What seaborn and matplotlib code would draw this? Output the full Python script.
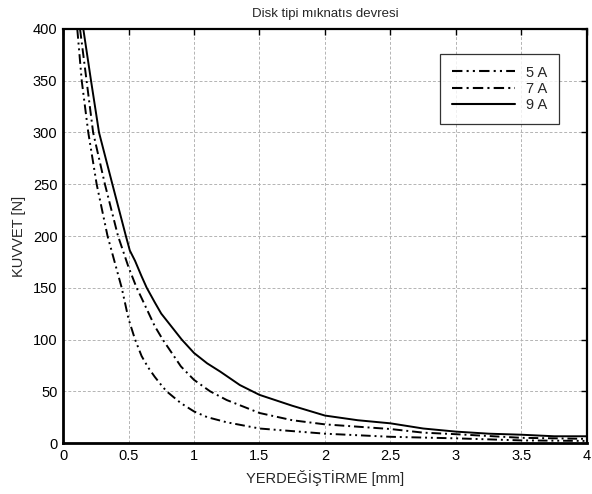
import numpy as np
import pandas as pd
import matplotlib
matplotlib.use("Agg")
import matplotlib.pyplot as plt
import seaborn as sns

# ---- data ----
x_5A = [0.109, 0.143, 0.193, 0.257, 0.34, 0.448, 0.5, 0.55, 0.6, 0.65, 0.7, 0.75, 0.79, 0.9, 1.0, 1.1, 1.25, 1.5, 2.0, 2.5, 3.0, 3.5, 4.0]
y_5A = [400, 350, 300, 250, 200, 150, 120, 100, 84, 73, 64, 56, 50, 38.5, 30.5, 25, 20, 14, 9, 6, 4.5, 2.5, 2]

x_7A = [0.13, 0.18, 0.23, 0.32, 0.42, 0.5, 0.562, 0.6, 0.7, 0.761, 0.9, 1.0, 1.122, 1.25, 1.5, 1.75, 2.0, 2.5, 2.75, 3.0, 3.5, 4.0]
y_7A = [400, 350, 300, 250, 200, 170, 150, 140, 113, 100, 74, 61, 50, 41.5, 29, 22, 18, 13.5, 10, 8.5, 5, 4]

x_9A = [0.155, 0.214, 0.275, 0.377, 0.48, 0.51, 0.55, 0.6, 0.639, 0.7, 0.75, 0.8, 0.906, 1.0, 1.1, 1.2, 1.35, 1.5, 1.75, 2.0, 2.25, 2.5, 2.75, 3.0, 3.25, 3.5, 3.75, 4.0]
y_9A = [400, 350, 300, 250, 200, 186, 176, 161, 150, 136, 125, 117, 100, 87, 77, 69, 56, 46.5, 36, 26.5, 22, 19, 14, 11, 9, 8, 6.5, 6.5]

series_labels = ["5 A", "7 A", "9 A"]
x_ticks = [0, 0.5, 1, 1.5, 2, 2.5, 3, 3.5, 4]
x_tick_labels = ["0", "0.5", "1", "1.5", "2", "2.5", "3", "3.5", "4"]
y_ticks = [0, 50, 100, 150, 200, 250, 300, 350, 400]

title = "Disk tipi mıknatıs devresi"
xlabel = "YERDEĞİŞTİRME [mm]"
ylabel = "KUVVET [N]"

df = pd.concat([
    pd.DataFrame({"x": x_5A, "y": y_5A, "s": series_labels[0]}),
    pd.DataFrame({"x": x_7A, "y": y_7A, "s": series_labels[1]}),
    pd.DataFrame({"x": x_9A, "y": y_9A, "s": series_labels[2]}),
], ignore_index=True)

sns.set_style("white")
plt.rcParams["font.family"] = ["Liberation Sans", "DejaVu Sans"]

fig = plt.figure(figsize=(5.92, 4.94), dpi=100)
ax = fig.add_axes([63/592, 1-443/494, (587-63)/592, (443-29)/494])

dashes = {
    "5 A": (5, 2, 1, 2, 1, 2),
    "7 A": (5, 2, 1, 2),
    "9 A": "",
}
sns.lineplot(data=df, x="x", y="y", hue="s", style="s", dashes=dashes,
             palette={k: "black" for k in series_labels}, sort=False,
             estimator=None, linewidth=1.4, ax=ax, legend=True)

ax.set_xlim(0, 4)
ax.set_ylim(0, 400)
ax.set_xticks(x_ticks)
ax.set_xticklabels(x_tick_labels)
ax.set_yticks(y_ticks)
ax.grid(True, color="#b4b4b4", linestyle=(0, (3, 2)), linewidth=0.7)
ax.tick_params(direction="in", length=4, width=1, top=True, right=True,
               labelsize=10.5, colors="black", pad=4)
for side in ["left", "bottom"]:
    ax.spines[side].set_linewidth(2.0)
for side in ["top", "right"]:
    ax.spines[side].set_linewidth(1.6)
for sp in ax.spines.values():
    sp.set_color("black")
    sp.set_visible(True)

ax.set_title(title, fontsize=9.5, pad=9)
ax.set_xlabel(xlabel, fontsize=10.5, labelpad=5)
ax.set_ylabel(ylabel, fontsize=10.5, labelpad=5)

handles, labels = ax.get_legend_handles_labels()
leg = ax.legend(handles, labels, loc="upper right", bbox_to_anchor=(0.947, 0.94),
                frameon=True, fancybox=False, edgecolor="black", fontsize=10.5,
                handlelength=4.3, borderpad=0.8, labelspacing=0.15, handletextpad=0.8,
                borderaxespad=0)
leg.get_frame().set_linewidth(0.9)
for line in leg.get_lines():
    line.set_linewidth(1.5)

fig.savefig("out.png", dpi=100)
